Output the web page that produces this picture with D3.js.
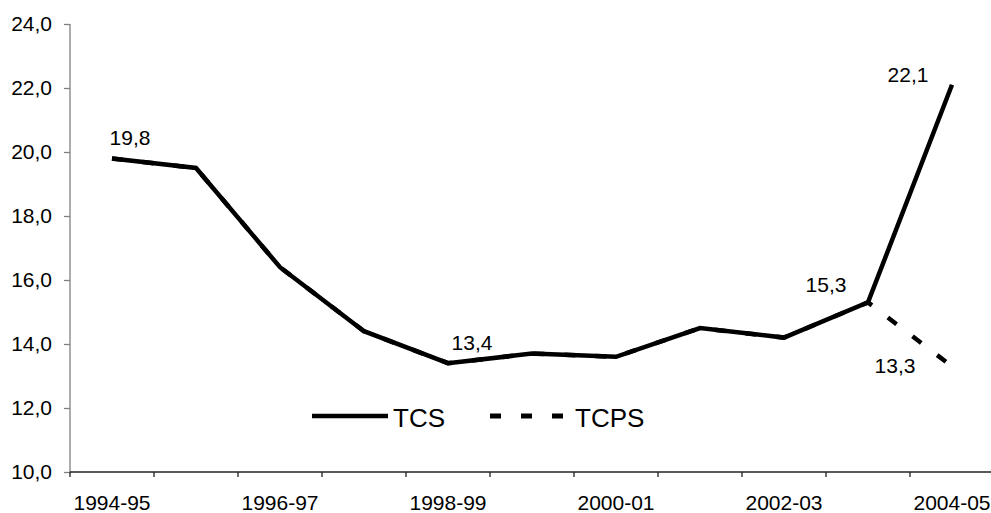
<!DOCTYPE html>
<meta charset="utf-8">
<style>
  body { margin: 0; background: #fff; }
  svg { display: block; font-family: "Liberation Sans", Arial, sans-serif; }
  .axis text { font-size: 21px; fill: #000; }
  .lbl { font-size: 21px; fill: #000; }
  .legend text { font-size: 26px; fill: #000; }
</style>
<body>
<svg id="chart" width="991" height="513"></svg>
<script src="https://d3js.org/d3.v7.min.js"></script>
<script>
// data
var years = ["1994-95", "1995-96", "1996-97", "1997-98", "1998-99", "1999-00",
             "2000-01", "2001-02", "2002-03", "2003-04", "2004-05"];
var tcs  = [19.8, 19.5, 16.4, 14.4, 13.4, 13.7, 13.6, 14.5, 14.2, 15.3, 22.1];
var tcps = [19.8, 19.5, 16.4, 14.4, 13.4, 13.7, 13.6, 14.5, 14.2, 15.3, 13.3];
var yTicks = [10, 12, 14, 16, 18, 20, 22, 24];
var xLabels = ["1994-95", "1996-97", "1998-99", "2000-01", "2002-03", "2004-05"];

// which points get a value label, with offsets from the point
var labels = [
  { s: "tcs",  i: 0,  dx: 18,  dy: -13 },
  { s: "tcs",  i: 4,  dx: 24,  dy: -13 },
  { s: "tcs",  i: 9,  dx: -42, dy: -10 },
  { s: "tcs",  i: 10, dx: -44, dy: -3 },
  { s: "tcps", i: 10, dx: -57, dy: 7 }
];

var svg = d3.select("#chart");
var mLeft = 70, mRight = 994, mTop = 24, mBottom = 472;

var x = d3.scaleBand().domain(years).range([mLeft, mRight]).padding(0);
var y = d3.scaleLinear().domain([10, 24]).range([mBottom, mTop]);
var cx = function(i) { return x(years[i]) + x.bandwidth() / 2; };
var fmt = function(v) { return d3.format(".1f")(v).replace(".", ","); };

// y axis
var yAxis = svg.append("g")
  .attr("class", "axis")
  .attr("transform", "translate(" + mLeft + ",0)")
  .call(d3.axisLeft(y).tickValues(yTicks).tickSize(6).tickPadding(12).tickFormat(fmt));
yAxis.selectAll("path, line").attr("stroke", "#808080").attr("stroke-width", 1.3);
yAxis.select(".domain").attr("d", "M0," + y(24) + "V" + y(10));

// x axis, labels at category centres, ticks at the boundaries
var xAxis = svg.append("g")
  .attr("class", "axis")
  .attr("transform", "translate(0," + mBottom + ")")
  .call(d3.axisBottom(x).tickValues(xLabels).tickSize(0).tickPadding(23));
xAxis.select(".domain").attr("stroke", "#222").attr("stroke-width", 1.3)
  .attr("d", "M" + mLeft + ",0H" + mRight);

xAxis.selectAll(".bound")
  .data(years.map(function(d) { return x(d); }).concat([mRight]))
  .enter().append("line")
  .attr("class", "bound")
  .attr("x1", function(d) { return d; })
  .attr("x2", function(d) { return d; })
  .attr("y1", 0).attr("y2", 5)
  .attr("stroke", "#222").attr("stroke-width", 1.3);

var line = d3.line()
  .x(function(d, i) { return cx(i); })
  .y(function(d) { return y(d); });

// TCPS underneath, TCS on top
svg.append("path")
  .datum(tcps)
  .attr("d", line)
  .attr("fill", "none")
  .attr("stroke", "#000")
  .attr("stroke-width", 4.5)
  .attr("stroke-dasharray", "11,20");

svg.append("path")
  .datum(tcs)
  .attr("d", line)
  .attr("fill", "none")
  .attr("stroke", "#000")
  .attr("stroke-width", 4.5)
  .attr("stroke-linejoin", "miter");

var series = { tcs: tcs, tcps: tcps };
svg.selectAll(".lbl")
  .data(labels)
  .enter().append("text")
  .attr("class", "lbl")
  .attr("text-anchor", "middle")
  .attr("x", function(d) { return cx(d.i) + d.dx; })
  .attr("y", function(d) { return y(series[d.s][d.i]) + d.dy; })
  .text(function(d) { return fmt(series[d.s][d.i]); });

// legend
var legend = svg.append("g").attr("class", "legend");
legend.append("line")
  .attr("x1", 312).attr("x2", 388).attr("y1", 416).attr("y2", 416)
  .attr("stroke", "#000").attr("stroke-width", 4.5);
legend.append("text").attr("x", 393).attr("y", 427).text("TCS");
legend.append("line")
  .attr("x1", 490).attr("x2", 564).attr("y1", 416).attr("y2", 416)
  .attr("stroke", "#000").attr("stroke-width", 5)
  .attr("stroke-dasharray", "11,20");
legend.append("text").attr("x", 575).attr("y", 427).text("TCPS");
</script>
</body>
